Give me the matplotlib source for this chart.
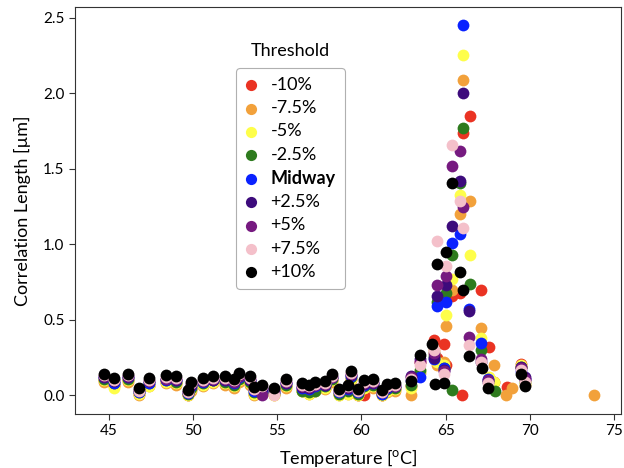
import numpy as np
import matplotlib
matplotlib.use("Agg")
import matplotlib.pyplot as plt

plt.rcParams['font.family'] = ['Lato', 'DejaVu Sans']
plt.rcParams['mathtext.fontset'] = 'custom'
plt.rcParams['mathtext.rm'] = 'Lato'

# temperatures shared by all thresholds below the transition
temp_low = [44.7, 45.3, 46.1, 46.8, 47.4, 48.4, 49.0, 49.7, 49.9, 50.6, 51.2,
            51.9, 52.4, 52.75, 53.35, 53.6, 54.1, 54.8, 55.5, 56.45, 56.9,
            57.25, 57.85, 58.25, 58.65, 59.2, 59.35, 59.8, 60.15, 60.7, 61.2,
            61.5, 62.0]

red_low = [0.10, 0.07, 0.10, 0.01, 0.07, 0.09, 0.08, 0.00, 0.04, 0.07, 0.09,
           0.08, 0.06, 0.10, 0.08, 0.01, 0.02, 0.01, 0.06, 0.04, 0.02, 0.04,
           0.05, 0.10, 0.01, 0.02, 0.11, 0.00, 0.00, 0.06, 0.00, 0.03, 0.04]
orange_low = [0.09, 0.06, 0.09, 0.00, 0.06, 0.08, 0.07, 0.00, 0.03, 0.06, 0.08,
              0.07, 0.05, 0.09, 0.07, 0.00, 0.01, 0.00, 0.05, 0.03, 0.01, 0.03,
              0.04, 0.09, 0.00, 0.01, 0.10, 0.00, 0.05, 0.05, 0.00, 0.02, 0.03]
yellow_low = [0.10, 0.05, 0.10, 0.01, 0.06, 0.09, 0.08, 0.00, 0.04, 0.07, 0.09,
              0.08, 0.06, 0.10, 0.08, 0.01, 0.02, 0.00, 0.06, 0.03, 0.01, 0.03,
              0.05, 0.10, 0.00, 0.01, 0.11, 0.00, 0.05, 0.06, 0.00, 0.03, 0.04]
green_low = [0.11, 0.08, 0.11, 0.02, 0.08, 0.10, 0.09, 0.01, 0.05, 0.08, 0.10,
             0.09, 0.07, 0.11, 0.09, 0.02, 0.03, 0.01, 0.07, 0.03, 0.02, 0.03,
             0.06, 0.11, 0.01, 0.03, 0.12, 0.01, 0.06, 0.07, 0.01, 0.04, 0.05]
blue_low = [0.12, 0.085, 0.12, 0.025, 0.085, 0.105, 0.10, 0.015, 0.06, 0.09,
            0.105, 0.10, 0.08, 0.12, 0.10, 0.03, 0.04, 0.02, 0.08, 0.05, 0.04,
            0.06, 0.07, 0.12, 0.02, 0.04, 0.13, 0.02, 0.07, 0.08, 0.01, 0.05,
            0.06]
indigo_low = [0.125, 0.095, 0.125, 0.03, 0.095, 0.11, 0.105, 0.02, 0.07, 0.095,
              0.105, 0.105, 0.088, 0.128, 0.105, 0.04, 0.05, 0.03, 0.085,
              0.058, 0.05, 0.068, 0.072, 0.12, 0.03, 0.05, 0.135, 0.03, 0.078,
              0.085, 0.02, 0.055, 0.062]
purple_low = [0.13, 0.10, 0.128, 0.035, 0.098, 0.112, 0.11, 0.025, 0.075,
              0.098, 0.11, 0.11, 0.092, 0.132, 0.11, 0.045, 0.00, 0.04, 0.09,
              0.062, 0.055, 0.072, 0.075, 0.125, 0.035, 0.055, 0.14, 0.035,
              0.082, 0.09, 0.025, 0.06, 0.065]
pink_low = [0.135, 0.105, 0.135, 0.03, 0.105, 0.12, 0.118, 0.02, 0.08, 0.105,
            0.118, 0.118, 0.10, 0.14, 0.118, 0.04, 0.06, 0.00, 0.095, 0.07,
            0.06, 0.078, 0.082, 0.132, 0.03, 0.06, 0.148, 0.03, 0.088, 0.098,
            0.02, 0.065, 0.072]
black_low = [0.145, 0.116, 0.145, 0.049, 0.116, 0.134, 0.13, 0.034, 0.089,
             0.116, 0.13, 0.13, 0.111, 0.151, 0.13, 0.056, 0.071, 0.05, 0.107,
             0.085, 0.071, 0.089, 0.094, 0.145, 0.044, 0.071, 0.161, 0.044,
             0.10, 0.11, 0.034, 0.078, 0.085]

# points around the transition, per threshold
red_pk_t = [62.95, 63.45, 64.3, 64.5, 64.9, 65.0, 65.4, 65.85, 65.98, 66.05,
            66.42, 67.13, 67.56, 67.9, 68.66, 69.5, 69.7]
red_pk_v = [0.06, 0.22, 0.37, 0.25, 0.34, 0.20, 0.66, 0.68, 0.00, 1.74, 1.85,
            0.70, 0.32, 0.09, 0.056, 0.21, 0.10]
orange_pk_t = [62.95, 63.45, 64.3, 64.5, 64.9, 65.0, 65.4, 65.85, 66.05, 66.42,
               67.13, 67.9, 68.6, 68.95, 69.5, 69.7, 73.8]
orange_pk_v = [0.00, 0.15, 0.30, 0.20, 0.22, 0.46, 0.70, 1.20, 2.09, 1.29, 0.45,
               0.205, 0.00, 0.05, 0.19, 0.07, 0.00]
yellow_pk_t = [62.95, 63.45, 64.3, 64.5, 64.9, 65.0, 65.4, 65.85, 66.05, 66.42,
               67.13, 67.56, 67.9, 69.5, 69.7]
yellow_pk_v = [0.05, 0.16, 0.28, 0.22, 0.20, 0.53, 0.77, 1.33, 2.255, 0.93,
               0.38, 0.12, 0.09, 0.20, 0.08]
green_pk_t = [62.95, 63.45, 64.3, 64.5, 64.9, 65.0, 65.35, 65.4, 65.85, 66.05,
              66.42, 67.13, 67.5, 67.96, 69.5, 69.7]
green_pk_v = [0.07, 0.17, 0.26, 0.62, 0.18, 0.68, 0.034, 0.93, 1.41, 1.77,
              0.74, 0.30, 0.10, 0.027, 0.19, 0.09]
blue_pk_t = [62.95, 63.45, 64.3, 64.5, 64.9, 65.0, 65.4, 65.85, 66.05, 66.4,
             67.13, 67.5, 69.5, 69.7]
blue_pk_v = [0.10, 0.12, 0.24, 0.59, 0.18, 0.62, 1.01, 1.07, 2.45, 0.57, 0.35,
             0.11, 0.16, 0.11]
indigo_pk_t = [62.95, 63.45, 64.3, 64.5, 64.9, 65.0, 65.4, 65.85, 66.05, 66.4,
               67.13, 67.5, 69.5, 69.7]
indigo_pk_v = [0.13, 0.24, 0.25, 0.66, 0.17, 0.73, 1.12, 1.42, 2.0, 0.56, 0.22,
               0.09, 0.19, 0.12]
purple_pk_t = [62.95, 63.45, 64.3, 64.5, 64.9, 65.0, 65.4, 65.85, 66.05, 66.4,
               67.13, 67.5, 69.5, 69.7]
purple_pk_v = [0.12, 0.22, 0.28, 0.73, 0.16, 0.79, 1.52, 1.62, 1.25, 0.385,
               0.24, 0.10, 0.18, 0.11]
pink_pk_t = [62.95, 63.45, 64.3, 64.5, 64.9, 65.0, 65.4, 65.85, 66.05, 66.4,
             67.13, 67.5, 69.5, 69.7]
pink_pk_v = [0.11, 0.20, 0.30, 1.02, 0.14, 0.86, 1.66, 1.29, 1.11, 0.335, 0.22,
             0.08, 0.17, 0.09]
black_pk_t = [62.95, 63.45, 64.2, 64.35, 64.5, 64.9, 65.0, 65.4, 65.85, 66.05,
              66.4, 67.15, 67.5, 69.5, 69.7]
black_pk_v = [0.094, 0.27, 0.34, 0.078, 0.87, 0.083, 0.95, 1.41, 0.82, 0.70,
              0.26, 0.18, 0.05, 0.145, 0.06]

labels = ['-10%', '-7.5%', '-5%', '-2.5%', 'Midway', '+2.5%', '+5%', '+7.5%',
          '+10%']
colors = ['#ea3323', '#f2a13b', '#fefe4a', '#2e7b1e', '#0a22ff', '#3d0b7c',
          '#761a80', '#f4c0ca', '#000000']

series = [
    (red_low, red_pk_t, red_pk_v),
    (orange_low, orange_pk_t, orange_pk_v),
    (yellow_low, yellow_pk_t, yellow_pk_v),
    (green_low, green_pk_t, green_pk_v),
    (blue_low, blue_pk_t, blue_pk_v),
    (indigo_low, indigo_pk_t, indigo_pk_v),
    (purple_low, purple_pk_t, purple_pk_v),
    (pink_low, pink_pk_t, pink_pk_v),
    (black_low, black_pk_t, black_pk_v),
]

fig = plt.figure(figsize=(6.24, 4.68), dpi=100)
ax = fig.add_axes([0.1202, 0.1154, 0.875, 0.8697])

for (low, pt, pv), c, lab in zip(series, colors, labels):
    x = np.concatenate([temp_low, pt])
    y = np.concatenate([low, pv])
    ax.scatter(x, y, s=72, color=c, linewidths=0, label=lab)

ax.set_xlim(42.98, 75.42)
ax.set_xticks([45, 50, 55, 60, 65, 70, 75])
ax.set_yticks([0.0, 0.5, 1.0, 1.5, 2.0, 2.5])
ax.tick_params(labelsize=11, length=4, color='#333333')
for sp in ax.spines.values():
    sp.set_color('#333333')
ax.set_xlabel('Temperature [$^{\\mathrm{o}}$C]', fontsize=13, labelpad=6)
ax.set_ylabel('Correlation Length [µm]', fontsize=13, labelpad=9)

leg = ax.legend(loc='upper left', bbox_to_anchor=(0.295, 0.85),
                borderaxespad=0, fontsize=13, frameon=True, fancybox=True,
                edgecolor='#b0b0b0', framealpha=1, labelspacing=0.4,
                handlelength=0.6, handletextpad=0.8, borderpad=0.5,
                markerscale=0.95)
leg.get_frame().set_linewidth(0.8)
leg.get_texts()[4].set_fontweight('bold')
ax.text(0.394, 0.892, 'Threshold', transform=ax.transAxes, ha='center',
        va='center', fontsize=13)

fig.savefig('out.png', dpi=100)
